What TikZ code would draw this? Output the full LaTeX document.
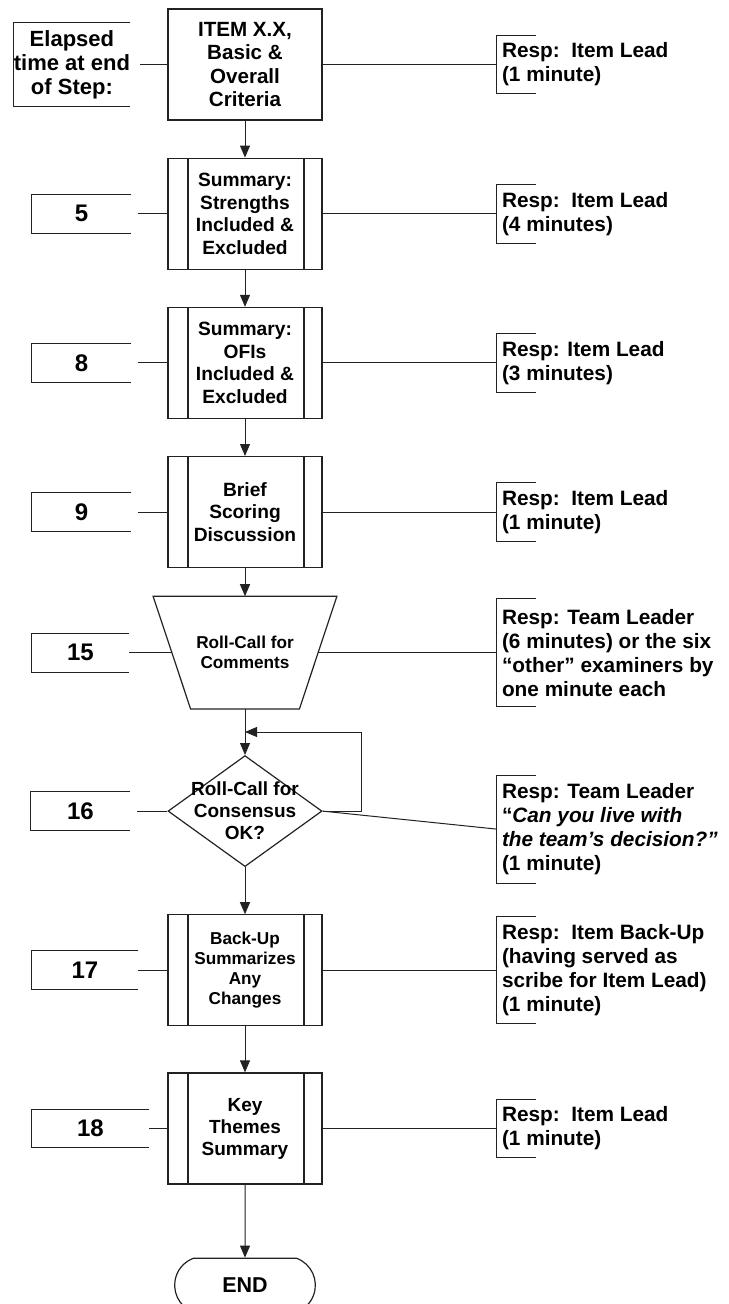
\documentclass[tikz,border=0pt]{standalone}
\usepackage{fontspec}
\setmainfont{Liberation Sans}
\usepackage{tikz}
\usetikzlibrary{arrows.meta,positioning,shapes.geometric,shapes.misc}
\definecolor{ink}{HTML}{222222}
% open bracket on the left side of a node
\newcommand{\respbracket}[1]{\draw[wire] ([xshift=19.5pt]#1.north west) -- (#1.north west) -- (#1.south west) -- ([xshift=19.5pt]#1.south west);}
\newcommand{\timebracket}[1]{\draw[wire] (#1.north east) -- (#1.north west) -- (#1.south west) -- (#1.south east);}

\begin{document}
\begin{tikzpicture}[
  node distance=18.5pt and 18pt,
  stepbox/.style={rectangle, draw=ink, line width=0.6pt, minimum width=77pt, minimum height=55.5pt, align=center, inner sep=2pt, font=\fontsize{9.6}{11.25}\selectfont\bfseries},
  subbox/.style={stepbox, path picture={
      \draw[ink, line width=0.6pt] ([xshift=10pt]path picture bounding box.north west) -- ([xshift=10pt]path picture bounding box.south west);
      \draw[ink, line width=0.6pt] ([xshift=-9pt]path picture bounding box.north east) -- ([xshift=-9pt]path picture bounding box.south east);}},
  timebox/.style={minimum width=49.5pt, minimum height=19pt, inner sep=0pt, align=center, font=\fontsize{12}{14}\selectfont\bfseries},
  respbox/.style={align=left, inner xsep=2.5pt, inner ysep=0pt, minimum height=29pt, font=\fontsize{10.4}{12}\selectfont\bfseries},
  wire/.style={draw=ink, line width=0.5pt},
  flow/.style={-{Triangle[length=6pt,width=5pt]}, draw=ink, line width=0.5pt}
]
\useasboundingbox (0,0) rectangle (364pt,-652pt);

% main column
\node[stepbox, font=\fontsize{10.3}{11.75}\selectfont\bfseries] (item) at (122.5pt,-32.25pt) {ITEM X.X,\\Basic \&\\Overall\\Criteria};
\node[subbox, below=of item] (strengths) {Summary:\\Strengths\\Included \&\\Excluded};
\node[subbox, below=of strengths] (ofis) {Summary:\\OFIs\\Included \&\\Excluded};
\node[subbox, below=of ofis] (scoring) {Brief\\Scoring\\Discussion};
\node[minimum width=91.5pt, minimum height=56pt, align=center, inner sep=0pt, font=\fontsize{8.6}{10}\selectfont\bfseries, below=14pt of scoring] (comments) {Roll-Call for\\Comments};
\draw[ink, line width=0.6pt] (comments.north west) -- (comments.north east) -- ([xshift=-18.75pt]comments.south east) -- ([xshift=18.75pt]comments.south west) -- cycle;
\node[diamond, aspect=1.39, draw=ink, line width=0.6pt, minimum width=77pt, minimum height=55.5pt, inner sep=0pt, below=23pt of comments,
  label={[font=\fontsize{9.5}{11}\selectfont\bfseries, align=center]center:{Roll-Call for\\Consensus\\OK?}}] (consensus) {};
\node[subbox, font=\fontsize{8.6}{10}\selectfont\bfseries, below=23.5pt of consensus] (backup) {Back-Up\\Summarizes\\Any\\Changes};
\node[subbox, font=\fontsize{9.5}{11}\selectfont\bfseries, below=23pt of backup] (themes) {Key\\Themes\\Summary};
\node[rounded rectangle, rounded rectangle arc length=140, draw=ink, line width=0.6pt, minimum width=77pt, minimum height=27pt, font=\fontsize{10.75}{12}\selectfont\bfseries, below=36.5pt of themes] (done) {END};
\coordinate[below=11.5pt of comments] (reenter);

% elapsed time
\node[timebox, minimum width=58pt, minimum height=41.5pt, font=\fontsize{11}{12}\selectfont\bfseries, left=18.5pt of item] (elapsed) {Elapsed\\time at end\\of Step:};
\node[timebox, left=of strengths] (time5) {5};
\node[timebox, left=of ofis] (time8) {8};
\node[timebox, left=of scoring] (time9) {9};
\node[timebox, minimum width=48.5pt, anchor=west] (time15) at (time9.west |- comments) {15};
\node[timebox, left=18.5pt of consensus] (time16) {16};
\node[timebox, minimum width=53pt, left=14.5pt of backup] (time17) {17};
\node[timebox, minimum width=58.5pt, left=9pt of themes] (time18) {18};

% responsibilities
\node[respbox, right=87pt of item] (resp1) {Resp:\ \ Item Lead\\(1 minute)};
\node[respbox, right=87pt of strengths] (resp5) {Resp:\ \ Item Lead\\(4 minutes)};
\node[respbox, right=87pt of ofis] (resp8) {Resp: Item Lead\\(3 minutes)};
\node[respbox, right=87pt of scoring] (resp9) {Resp:\ \ Item Lead\\(1 minute)};
\node[respbox, minimum height=53.5pt, anchor=west] (resp15) at (resp9.west |- comments) {Resp: Team Leader\\(6 minutes) or the six\\“other” examiners by\\one minute each};
\node[respbox, minimum height=53.5pt, right=87pt of consensus, yshift=-9pt] (resp16) {Resp: Team Leader\\“\textit{Can you live with}\\\textit{the team’s decision?”}\\(1 minute)};
\node[respbox, minimum height=53pt, right=87pt of backup] (resp17) {Resp:\ \ Item Back-Up\\(having served as\\scribe for Item Lead)\\(1 minute)};
\node[respbox, right=87pt of themes] (resp18) {Resp:\ \ Item Lead\\(1 minute)};

\timebracket{elapsed}
\timebracket{time5}
\timebracket{time8}
\timebracket{time9}
\timebracket{time15}
\timebracket{time16}
\timebracket{time17}
\timebracket{time18}
\respbracket{resp1}
\respbracket{resp5}
\respbracket{resp8}
\respbracket{resp9}
\respbracket{resp15}
\respbracket{resp16}
\respbracket{resp17}
\respbracket{resp18}

\draw[flow] (item) -- (strengths);
\draw[flow] (strengths) -- (ofis);
\draw[flow] (ofis) -- (scoring);
\draw[flow] (scoring) -- (comments);
\draw[flow] (comments) -- (consensus);
\draw[flow] (consensus.east) -- ++(19.5pt,0) |- (reenter);
\draw[flow] (consensus) -- (backup);
\draw[flow] (backup) -- (themes);
\draw[flow] (themes) -- (done);

\draw[wire, shorten <=5pt] (elapsed) -- (item);
\draw[wire, shorten <=3.5pt] (time5) -- (strengths);
\draw[wire, shorten <=3.5pt] (time8) -- (ofis);
\draw[wire, shorten <=3.5pt] (time9) -- (scoring);
\draw[wire] (time15) -- ([xshift=9.4pt]comments.west);
\draw[wire, shorten <=3.5pt] (time16) -- (consensus);
\draw[wire] (time17) -- (backup);
\draw[wire] (time18) -- (themes);

\draw[wire] (item) -- (resp1);
\draw[wire] (strengths) -- (resp5);
\draw[wire] (ofis) -- (resp8);
\draw[wire] (scoring) -- (resp9);
\draw[wire] ([xshift=-9.4pt]comments.east) -- (resp15);
\draw[wire] (consensus.east) -- (resp16.west);
\draw[wire] (backup) -- (resp17);
\draw[wire] (themes) -- (resp18);
\end{tikzpicture}
\end{document}
